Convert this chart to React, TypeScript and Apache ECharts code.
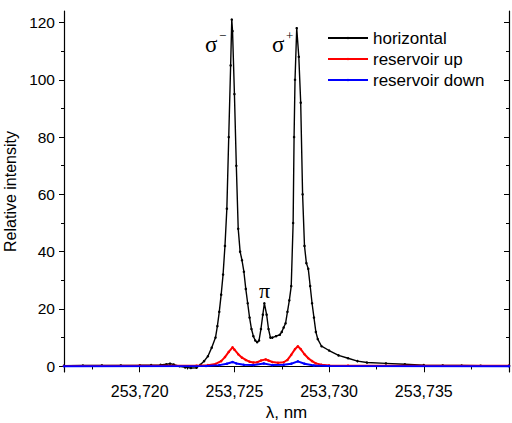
import React, { useEffect, useRef } from "react";
import * as echarts from "echarts";

const X_MIN = 253.716;
const X_MAX = 253.7395;
const Y_MIN = -2;
const Y_MAX = 124;

const xMajorTicks = [253.72, 253.725, 253.73, 253.735];
const xMinorTicks = [253.7175, 253.7225, 253.7275, 253.7325, 253.7375];
const yMajorTicks = [0, 20, 40, 60, 80, 100, 120];
const yMinorTicks = [10, 30, 50, 70, 90, 110];

const seriesNames = ["horizontal", "reservoir up", "reservoir down"];

const horizontalLambda = [
  253.716, 253.717, 253.718, 253.719, 253.72, 253.7206, 253.7211, 253.7214, 253.7216, 253.7218,
  253.7221, 253.7224, 253.7227, 253.723, 253.7232, 253.7234, 253.7236, 253.7238, 253.724, 253.7241,
  253.7242, 253.7243, 253.7244, 253.7245, 253.7246, 253.7247, 253.7248, 253.72486, 253.7249, 253.725,
  253.7251, 253.7252, 253.7253, 253.7254, 253.7255, 253.7256, 253.7257, 253.7258, 253.7259, 253.726,
  253.7261, 253.7262, 253.7263, 253.7264, 253.7265, 253.72658, 253.7267, 253.7268, 253.7269, 253.727,
  253.7272, 253.7274, 253.7275, 253.7276, 253.7277, 253.7278, 253.7279, 253.728, 253.7281, 253.72815,
  253.7282, 253.72829, 253.7284, 253.7285, 253.7286, 253.7287, 253.7288, 253.7289, 253.729, 253.7291,
  253.7292, 253.7293, 253.7294, 253.7296, 253.73, 253.7305, 253.731, 253.7315, 253.732, 253.733,
  253.734, 253.735, 253.736, 253.737, 253.738, 253.7395,
];
const horizontalValues = [
  0.2, 0.25, 0.3, 0.3, 0.35, 0.4, 0.5, 0.7, 0.9, 0.6,
  0.0, -0.4, -0.6, -0.5, 0.5, 1.8, 3.5, 6.5, 10, 14,
  19, 25, 32, 42, 55, 80, 105, 121, 117, 95,
  70, 48, 40, 37, 33, 27, 22, 17, 13, 10.5,
  9, 8.4, 9, 13, 18, 22, 18, 13, 10, 10,
  10.5, 11, 12, 13.5, 15, 19, 23, 28, 50, 80,
  100, 118, 108, 92, 60, 42, 36, 34, 28, 22,
  17, 12, 9.5, 7, 5.5, 3.8, 2.8, 1.8, 1.3, 1.0,
  0.7, 0.4, 0.3, 0.25, 0.2, 0.2,
];

const upLambda = [
  253.716, 253.72, 253.723, 253.7236, 253.724, 253.7243, 253.7245, 253.7247, 253.7249, 253.725,
  253.7252, 253.7254, 253.7256, 253.7258, 253.726, 253.7262, 253.7264, 253.72665, 253.7268, 253.727,
  253.7273, 253.7276, 253.7278, 253.728, 253.7282, 253.72835, 253.7285, 253.7287, 253.7289, 253.7291,
  253.7293, 253.7296, 253.73, 253.731, 253.7395,
];
const upValues = [
  0.1, 0.15, 0.2, 0.4, 0.8, 1.8, 3.2, 5, 6.6, 5.8,
  4.2, 3, 2.2, 1.6, 1.3, 1.4, 2, 2.4, 2, 1.5,
  1.2, 1.4, 2.2, 4, 6, 7, 6, 4.2, 2.8, 1.8,
  1, 0.5, 0.3, 0.2, 0.15,
];

const downLambda = [
  253.716, 253.7235, 253.7242, 253.7246, 253.7249, 253.7251, 253.7255, 253.726, 253.72655, 253.727,
  253.7276, 253.728, 253.72835, 253.7287, 253.7292, 253.73, 253.7395,
];
const downValues = [
  0, 0.1, 0.4, 0.9, 1.5, 1.0, 0.5, 0.4, 1.0, 0.4,
  0.5, 0.9, 1.7, 0.9, 0.3, 0.1, 0.05,
];

const colors = ["#000000", "#ff0000", "#0000ff"];

const SANS = "Liberation Sans, Arial, sans-serif";
const SERIF = "Liberation Serif, Times New Roman, serif";

function pairs(xs: number[], ys: number[]) {
  return xs.map((x, i) => [x, ys[i]]);
}

const fmtX = (v: number) => v.toFixed(3).replace(".", ",");

export default function App() {
  const ref = useRef<HTMLDivElement>(null);
  useEffect(() => {
    if (!ref.current) return;
    const chart = echarts.init(ref.current, null, { renderer: "svg" });
    const lineCol = "#000";
    const baseX = { type: "value", min: X_MIN, max: X_MAX, splitLine: { show: false } };
    const baseY = { type: "value", min: Y_MIN, max: Y_MAX, splitLine: { show: false } };
    const axisLine = { show: true, lineStyle: { color: lineCol, width: 1.2 } };
    const noLine = { show: false };
    chart.setOption({
      animation: false,
      backgroundColor: "#ffffff",
      grid: { left: 64, right: 3, top: 11, bottom: 51, containLabel: false, outerBoundsMode: "none" },
      legend: {
        data: seriesNames,
        orient: "vertical",
        left: 322,
        top: 24,
        itemWidth: 40,
        itemHeight: 3,
        itemGap: 3,
        textStyle: { fontSize: 17, fontFamily: SANS, color: "#000", lineHeight: 18 },
      },
      xAxis: [
        {
          ...baseX,
          position: "bottom",
          axisLine,
          axisTick: { show: true, inside: false, length: 6, customValues: xMajorTicks, lineStyle: { color: lineCol } },
          axisLabel: {
            show: true,
            customValues: xMajorTicks,
            formatter: fmtX,
            fontSize: 16,
            fontFamily: SANS,
            color: "#000",
            margin: 11,
          },
          name: "λ, nm",
          nameLocation: "middle",
          nameGap: 31,
          nameTextStyle: { fontSize: 17, fontFamily: SANS, color: "#000" },
        },
        {
          ...baseX,
          position: "bottom",
          axisLine: noLine,
          axisTick: { show: true, inside: false, length: 3, customValues: xMinorTicks, lineStyle: { color: lineCol } },
          axisLabel: { show: false },
        },
        {
          ...baseX,
          position: "top",
          axisLine,
          axisTick: { show: true, inside: true, length: 5, customValues: xMajorTicks, lineStyle: { color: lineCol } },
          axisLabel: { show: false },
        },
        {
          ...baseX,
          position: "top",
          axisLine: noLine,
          axisTick: { show: true, inside: true, length: 3, customValues: xMinorTicks, lineStyle: { color: lineCol } },
          axisLabel: { show: false },
        },
      ],
      yAxis: [
        {
          ...baseY,
          position: "left",
          axisLine,
          axisTick: { show: true, inside: false, length: 5, customValues: yMajorTicks, lineStyle: { color: lineCol } },
          axisLabel: {
            show: true,
            customValues: yMajorTicks,
            fontSize: 15.5,
            fontFamily: SANS,
            color: "#000",
            margin: 9,
          },
          name: "Relative intensity",
          nameLocation: "middle",
          nameGap: 38,
          nameTextStyle: { fontSize: 16, fontFamily: SANS, color: "#000" },
        },
        {
          ...baseY,
          position: "left",
          axisLine: noLine,
          axisTick: { show: true, inside: false, length: 3, customValues: yMinorTicks, lineStyle: { color: lineCol } },
          axisLabel: { show: false },
        },
        {
          ...baseY,
          position: "right",
          axisLine,
          axisTick: { show: true, inside: true, length: 5, customValues: yMajorTicks, lineStyle: { color: lineCol } },
          axisLabel: { show: false },
        },
        {
          ...baseY,
          position: "right",
          axisLine: noLine,
          axisTick: { show: true, inside: true, length: 3, customValues: yMinorTicks, lineStyle: { color: lineCol } },
          axisLabel: { show: false },
        },
      ],
      series: [
        {
          name: seriesNames[0],
          type: "line",
          data: pairs(horizontalLambda, horizontalValues),
          xAxisIndex: 0,
          yAxisIndex: 0,
          symbol: "circle",
          symbolSize: 2.5,
          showSymbol: true,
          color: colors[0],
          lineStyle: { width: 1.4, color: colors[0] },
          itemStyle: { color: colors[0] },
          z: 2,
        },
        {
          name: seriesNames[1],
          type: "line",
          data: pairs(upLambda, upValues),
          xAxisIndex: 0,
          yAxisIndex: 0,
          symbol: "circle",
          symbolSize: 2.5,
          showSymbol: true,
          color: colors[1],
          lineStyle: { width: 2, color: colors[1] },
          itemStyle: { color: colors[1] },
          z: 3,
        },
        {
          name: seriesNames[2],
          type: "line",
          data: pairs(downLambda, downValues),
          xAxisIndex: 0,
          yAxisIndex: 0,
          symbol: "circle",
          symbolSize: 2.5,
          showSymbol: true,
          color: colors[2],
          lineStyle: { width: 2, color: colors[2] },
          itemStyle: { color: colors[2] },
          z: 4,
        },
      ],
      graphic: [
        { type: "text", left: 205, top: 33, style: { text: "σ", fontSize: 23, fontFamily: SERIF, fill: "#000" } },
        { type: "text", left: 219, top: 29, style: { text: "−", fontSize: 13, fontFamily: SERIF, fill: "#000" } },
        { type: "text", left: 272, top: 33, style: { text: "σ", fontSize: 23, fontFamily: SERIF, fill: "#000" } },
        { type: "text", left: 286, top: 29, style: { text: "+", fontSize: 13, fontFamily: SERIF, fill: "#000" } },
        { type: "text", left: 259, top: 279, style: { text: "π", fontSize: 22, fontFamily: SERIF, fill: "#000" } },
      ],
    });
    return () => chart.dispose();
  }, []);
  return (
    <div
      ref={ref}
      style={{ position: "fixed", left: 0, top: 0, width: 512, height: 423, background: "#fff" }}
    />
  );
}
